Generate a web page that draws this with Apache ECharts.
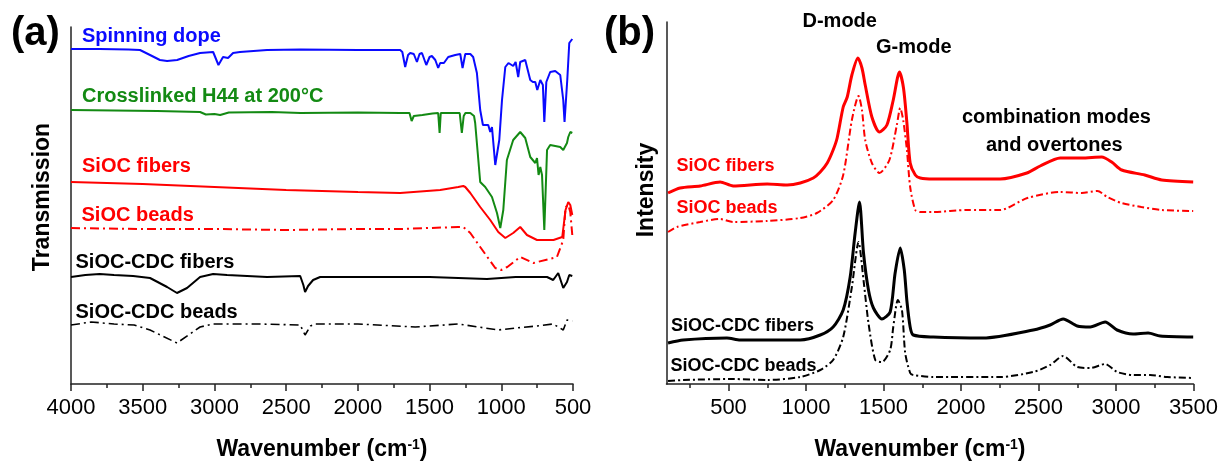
<!DOCTYPE html>
<html>
<head>
<meta charset="utf-8">
<script src="https://cdn.jsdelivr.net/npm/echarts@6/dist/echarts.min.js"></script>
<style>html,body{margin:0;padding:0;background:#fff;}#c{width:1231px;height:468px;}</style>
</head>
<body>
<div id="c"></div>
<script>
// ---------- Panel (a): FTIR, wavenumber (cm-1) vs transmission (a.u., offset) ----------
const ftirSpinningDope = [[4000,335],[3800,335],[3600,334.5],[3519,334],[3449,329],[3380,324],[3330,323],[3260,324],[3180,328],[3100,331],[3009,332],[2972,319],[2940,327],[2905,326],[2870,331],[2822,332],[2633,334],[2400,334.5],[2000,334],[1705,334],[1690,332],[1670,317],[1650,329],[1635,331],[1610,330],[1588,322],[1570,330],[1553,331],[1523,319],[1500,327],[1484,328],[1460,324],[1440,316],[1426,321],[1400,321],[1370,327],[1321,329],[1286,330],[1270,316],[1251,330],[1216,330],[1196,327],[1170,311],[1147,274],[1128,259],[1091,259],[1077,252],[1065,257],[1042,219],[1030,217],[1014,244],[995,284],[972,317],[950,321],[937,322],[917,318],[900,322],[891,322],[882,307],[868,322],[833,324],[798,304],[780,302],[763,302],[749,294],[728,304],[710,299],[700,262],[686,302],[659,312],[624,313],[589,309],[568,284],[559,262],[540,304],[526,341],[505,345]];
const ftirCrosslinked = [[4000,274],[3700,273.5],[3400,273],[3100,272],[3060,269.5],[3000,270],[2960,269],[2900,271.5],[2600,272],[2400,271],[2000,271.5],[1705,271],[1640,271],[1625,263],[1610,268],[1550,269],[1480,270.5],[1440,271],[1430,251],[1422,271],[1290,271],[1275,251],[1262,268],[1250,271],[1216,271],[1190,268],[1182,261],[1147,202],[1112,197],[1065,187],[1030,171],[1007,156],[986,174],[961,224],[917,244],[868,252],[833,246],[798,227],[763,221],[751,226],[740,209],[728,217],[716,209],[700,154],[681,234],[659,239],[589,237],[568,234],[542,241],[533,247],[519,252],[505,251]];
const ftirSiocFibers = [[4000,202],[3500,200],[3000,197],[2500,194],[2000,192],[1705,191],[1426,194],[1300,197],[1265,198],[1251,197],[1216,191],[1147,177],[1077,164],[1021,152],[972,146],[917,151],[868,157],[821,149],[751,144],[636,144],[575,147],[552,174],[533,182],[519,179],[505,169]];
const ftirSiocBeads = [[4000,156],[3500,155],[3000,155],[2500,154],[2000,155],[1705,155],[1300,157],[1265,157],[1216,151],[1147,137],[1042,116],[1000,114],[958,117],[868,127],[775,121],[612,127],[568,144],[552,177],[533,179],[519,172],[505,149]];
const ftirCdcFibers = [[4000,107],[3900,109],[3800,110],[3700,109],[3567,108],[3449,106],[3330,97],[3261,91],[3191,96],[3100,107],[3009,110],[2912,109],[2633,107],[2402,108],[2380,99],[2368,92],[2347,98],[2312,104],[2263,107],[2000,107],[1500,107],[1100,105],[900,107],[681,107],[638,104],[603,111],[568,96],[542,102],[526,109],[505,108]];
const ftirCdcBeads = [[4000,59],[3860,62],[3700,60],[3560,59],[3449,54],[3261,41],[3100,57],[3009,60],[2700,60],[2402,59],[2368,49],[2330,58],[2300,60],[2000,60],[1600,57],[1300,60],[1021,54],[900,56],[751,58],[638,60],[568,54],[542,64],[505,63]];

// ---------- Panel (b): Raman, wavenumber (cm-1) vs intensity (a.u., offset) ----------
const ramanSiocFibers = [[110,191],[188,196],[317,198],[446,202],[530,198],[750,200],[879,199],[963,201],[1047,206],[1092,212],[1137,221],[1175,234],[1201,246],[1240,277],[1266,287],[1296,309],[1335,326],[1361,316],[1382,299],[1425,267],[1474,252],[1522,259],[1563,284],[1603,312],[1629,296],[1651,261],[1672,221],[1705,209],[1737,206],[1821,205],[2038,205],[2253,205],[2425,211],[2511,218],[2640,226],[2779,226],[2908,227],[2972,222],[3037,214],[3185,209],[3295,204],[3498,202]];
const ramanSiocBeads = [[110,152],[167,157],[317,162],[446,165],[530,162],[750,163],[963,166],[1070,171],[1175,184],[1240,209],[1296,264],[1339,288],[1361,274],[1382,244],[1425,221],[1474,211],[1538,224],[1586,259],[1608,276],[1627,264],[1651,234],[1672,197],[1705,174],[1737,172],[1821,172],[2038,174],[2253,174],[2428,186],[2640,192],[2779,191],[2880,193],[2944,187],[3035,181],[3164,177],[3295,174],[3498,173]];
const ramanCdcFibers = [[110,41],[208,44],[490,46],[575,44],[963,44],[1092,49],[1175,57],[1240,74],[1285,107],[1317,151],[1345,182],[1371,131],[1403,94],[1435,76],[1490,65],[1543,72],[1575,111],[1608,136],[1634,114],[1651,83],[1672,57],[1692,49],[1821,47],[2143,46],[2466,54],[2575,59],[2659,65],[2750,58],[2834,57],[2930,62],[3007,54],[3110,50],[3207,51],[3285,48],[3498,47]];
const ramanCdcBeads = [[110,3],[208,4],[530,5],[750,4],[963,7],[1092,14],[1175,24],[1240,47],[1296,97],[1339,142],[1371,104],[1403,61],[1447,24],[1490,22],[1543,34],[1563,57],[1593,84],[1619,74],[1640,31],[1672,11],[1692,9],[1821,7],[2253,7],[2466,12],[2575,19],[2659,28],[2750,17],[2834,16],[2930,20],[3007,12],[3110,9],[3220,9],[3330,7],[3498,6]];

// tick values
const ticksA = [500,1000,1500,2000,2500,3000,3500,4000];
const ticksBMajor = [500,1000,1500,2000,2500,3000,3500];
const ticksBMinor = [250,750,1250,1750,2250,2750,3250];

const FONT = 'Liberation Sans, Arial, sans-serif';
const BLUE = '#0a0aff', GREEN = '#138a13', RED = '#ff0000', BLACK = '#000000';
const DASHDOT = [9,4,2,4];

const nameRich = {
  t: {fontSize: 23, fontWeight: 'bold', fontFamily: FONT, color: '#000'},
  s: {fontSize: 14, fontWeight: 'bold', fontFamily: FONT, color: '#000', verticalAlign: 'top'}
};
const axisLineStyle = {color: '#222', width: 1.5};
const plain = v => String(v);

function txt(x, y, text, size, color, extra, align) {
  const a = align || 'left';
  return Object.assign({
    type: 'text', x: x, y: y, silent: true,
    style: {text: text, fontSize: size, fontWeight: 'bold', fontFamily: FONT, fill: color,
            align: a, verticalAlign: 'middle', textAlign: a, textVerticalAlign: 'middle'}
  }, extra || {});
}

const chart = echarts.init(document.getElementById('c'), null, {renderer: 'canvas'});
const line = (data, xi, color, width, type, smooth) => ({
  type: 'line', xAxisIndex: xi, yAxisIndex: xi, data: data, showSymbol: false, symbol: 'none',
  smooth: smooth || false, lineStyle: {color: color, width: width, type: type || 'solid'}, silent: true, z: 3
});

chart.setOption({
  animation: false,
  backgroundColor: '#fff',
  grid: [
    {left: 71, top: 27, width: 502, height: 357},
    {left: 666.5, top: 22, width: 527, height: 362}
  ],
  xAxis: [
    {type: 'value', gridIndex: 0, min: 500, max: 4000, interval: 500, inverse: true,
     axisLine: {show: true, onZero: false, lineStyle: axisLineStyle},
     axisTick: {show: true, length: 7, lineStyle: axisLineStyle},
     minorTick: {show: true, splitNumber: 2, length: 4, lineStyle: axisLineStyle},
     axisLabel: {fontSize: 22, color: '#000', fontFamily: FONT, margin: 13, customValues: ticksA, formatter: plain},
     splitLine: {show: false},
     name: '{t|Wavenumber (cm}{s|-1}{t|)}', nameLocation: 'middle', nameGap: 54,
     nameTextStyle: {rich: nameRich}},
    {type: 'value', gridIndex: 1, min: 100, max: 3500, position: 'bottom',
     axisLine: {show: true, onZero: false, lineStyle: axisLineStyle},
     axisTick: {show: true, length: 7, lineStyle: axisLineStyle, customValues: ticksBMajor},
     axisLabel: {fontSize: 22, color: '#000', fontFamily: FONT, margin: 13, customValues: ticksBMajor, formatter: plain},
     splitLine: {show: false},
     name: '{t|Wavenumber (cm}{s|-1}{t|)}', nameLocation: 'middle', nameGap: 54,
     nameTextStyle: {rich: nameRich, padding: [0, 20, 0, 0]}},
    {type: 'value', gridIndex: 1, min: 100, max: 3500, position: 'bottom', offset: 0,
     axisLine: {show: false},
     axisTick: {show: true, length: 4, lineStyle: axisLineStyle, customValues: ticksBMinor},
     axisLabel: {show: false}, splitLine: {show: false}}
  ],
  yAxis: [
    {type: 'value', gridIndex: 0, min: 0, max: 357,
     axisLine: {show: true, onZero: false, lineStyle: axisLineStyle},
     axisTick: {show: false}, axisLabel: {show: false}, splitLine: {show: false}},
    {type: 'value', gridIndex: 1, min: 0, max: 362,
     axisLine: {show: true, onZero: false, lineStyle: axisLineStyle},
     axisTick: {show: false}, axisLabel: {show: false}, splitLine: {show: false}}
  ],
  series: [
    line(ftirSpinningDope, 0, BLUE, 2),
    line(ftirCrosslinked, 0, GREEN, 2),
    line(ftirSiocFibers, 0, RED, 2),
    line(ftirSiocBeads, 0, RED, 2, DASHDOT),
    line(ftirCdcFibers, 0, BLACK, 2),
    line(ftirCdcBeads, 0, BLACK, 1.6, DASHDOT),
    line(ramanSiocFibers, 1, RED, 3, 'solid', 0.25),
    line(ramanSiocBeads, 1, RED, 2, [7,3,2,3], 0.25),
    line(ramanCdcFibers, 1, BLACK, 3, 'solid', 0.25),
    line(ramanCdcBeads, 1, BLACK, 2, [7,3,2,3], 0.25)
  ],
  graphic: [
    txt(11, 34, '(a)', 40, '#000'),
    txt(604, 34, '(b)', 40, '#000'),
    txt(43, 197, 'Transmission', 23, '#000', {rotation: Math.PI / 2}, 'center'),
    txt(647, 190, 'Intensity', 23, '#000', {rotation: Math.PI / 2}, 'center'),
    txt(82, 36.7, 'Spinning dope', 20, BLUE),
    txt(82, 96.3, 'Crosslinked H44 at 200°C', 20, GREEN),
    txt(82, 166, 'SiOC fibers', 20, RED),
    txt(81.5, 215, 'SiOC beads', 20, RED),
    txt(75.5, 262.5, 'SiOC-CDC fibers', 20, BLACK),
    txt(75.5, 312, 'SiOC-CDC beads', 20, BLACK),
    txt(676.5, 166.3, 'SiOC fibers', 18, RED),
    txt(676.5, 208, 'SiOC beads', 18, RED),
    txt(671, 326.3, 'SiOC-CDC fibers', 18, BLACK),
    txt(670.5, 366.3, 'SiOC-CDC beads', 18, BLACK),
    txt(802.5, 21.7, 'D-mode', 20, BLACK),
    txt(876, 47.5, 'G-mode', 20, BLACK),
    txt(962, 117.3, 'combination modes', 20, BLACK),
    txt(986, 145, 'and overtones', 20, BLACK)
  ]
});
</script>
</body>
</html>
